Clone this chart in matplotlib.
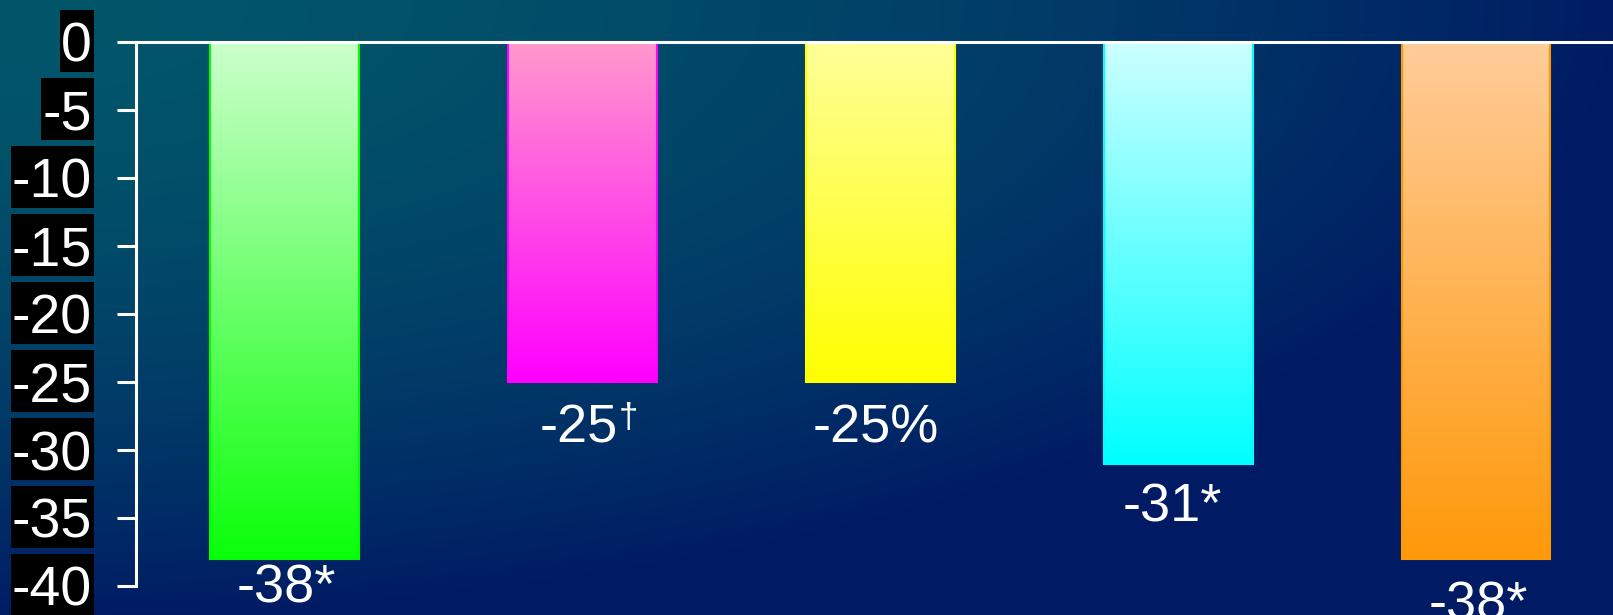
import numpy as np
import matplotlib
matplotlib.use("Agg")
import matplotlib.pyplot as plt
from matplotlib.colors import to_rgb
from matplotlib.patches import Rectangle

# ---- data ----
categories = ["A", "B", "C", "D", "E"]
values = [-38, -25, -25, -31, -38]
value_labels = ["-38*", "-25", "-25%", "-31*", "-38*"]
value_marks = ["", "\u2020", "", "", ""]
yticks = [0, -5, -10, -15, -20, -25, -30, -35, -40]
ytick_labels = ["0", "-5", "-10", "-15", "-20", "-25", "-30", "-35", "-40"]

# ---- style ----
top_colors = ["#ccffcc", "#ff99cc", "#ffff99", "#ccffff", "#ffcc99"]
bottom_colors = ["#0aff0a", "#ff00ff", "#ffff00", "#00ffff", "#ff990a"]
edge_colors = ["#00ff00", "#ff00ff", "#ffff00", "#00ffff", "#ff9900"]
label_dx_pt = [0.7, -2.8, -3.6, -4.3, 1.4]
label_dy_pt = [-31.5, -43.2, -43.2, -42.0, -44.0]

plt.rcParams["font.family"] = ["Liberation Sans", "DejaVu Sans"]

W, H = 1613, 615
fig = plt.figure(figsize=(W / 100, H / 100), dpi=100)

# background gradient (teal top-left -> navy)
bg = fig.add_axes([0, 0, 1, 1], zorder=-10)
yy, xx = np.mgrid[0:H, 0:W]
u = xx / W
v = yy / H
r = np.sqrt(u ** 2 + v ** 2) / np.sqrt(2)
f = np.clip(r / 0.72, 0, 1) ** 1.8
teal = np.array([2, 86, 106]) / 255
navy = np.array([0, 26, 100]) / 255
img = teal[None, None, :] * (1 - f[..., None]) + navy[None, None, :] * f[..., None]
bg.imshow(img, aspect="auto", extent=[0, 1, 0, 1], origin="upper")
bg.set_axis_off()

ax = fig.add_axes([136 / W, 29 / H, 1 - 136 / W, 544 / H], zorder=0)
ax.set_facecolor("none")
x = np.arange(len(categories))
bars = ax.bar(x, values, width=0.5, facecolor="none",
              edgecolor=edge_colors, linewidth=1.5, zorder=2)

for b, tc, bc in zip(bars, top_colors, bottom_colors):
    x0 = b.get_x()
    w = b.get_width()
    h = b.get_height()
    t = np.linspace(0, 1, 256)[:, None]
    c0 = np.array(to_rgb(tc))
    c1 = np.array(to_rgb(bc))
    grad = c0[None, None, :] * (1 - t[..., None]) + c1[None, None, :] * t[..., None]
    grad = np.repeat(grad, 2, axis=1)
    im = ax.imshow(grad, extent=[x0, x0 + w, h, 0], origin="upper",
                   aspect="auto", zorder=1)
    im.set_clip_path(b)

for xi, val, lab, mark, dx, dy in zip(x, values, value_labels, value_marks,
                                       label_dx_pt, label_dy_pt):
    txt = ax.annotate(lab, xy=(xi, val), xytext=(dx, dy), textcoords="offset points",
                      ha="center", va="baseline", color="white", fontsize=39,
                      annotation_clip=False, clip_on=False)
    if mark:
        ax.annotate(mark, xy=(1, 1), xycoords=txt, xytext=(0.3, 1),
                    textcoords="offset points", ha="left", va="top",
                    color="white", fontsize=25, annotation_clip=False)

ax.set_xlim(-0.5, 4.46)
ax.set_ylim(-40, 0)
ax.set_xticks([])
ax.set_yticks(yticks)
ax.set_yticklabels(ytick_labels)
ax.tick_params(axis="y", length=13.7, width=2.2, pad=18, labelsize=40,
               colors="white", direction="out")

for s in ["right", "bottom"]:
    ax.spines[s].set_visible(False)
ax.spines["left"].set_color("white")
ax.spines["left"].set_linewidth(2.2)
ax.spines["top"].set_color("white")
ax.spines["top"].set_linewidth(2.2)
ax.spines["top"].set_zorder(5)

# black boxes behind tick labels
fig.canvas.draw()
renderer = fig.canvas.get_renderer()
inv = fig.transFigure.inverted()
for lbl, tv in zip(ax.get_yticklabels(), yticks):
    ext = lbl.get_window_extent(renderer)
    ty = ax.transData.transform((0, tv))[1]
    x0d, x1d = ext.x0 - 1, ext.x1 + 2
    y0d, y1d = ty - 30, ty + 32
    (fx0, fy0) = inv.transform((x0d, y0d))
    (fx1, fy1) = inv.transform((x1d, y1d))
    fig.patches.append(Rectangle((fx0, fy0), fx1 - fx0, fy1 - fy0,
                                 transform=fig.transFigure, facecolor="black",
                                 edgecolor="none", zorder=-1, figure=fig))

fig.savefig("out.png", dpi=100)
